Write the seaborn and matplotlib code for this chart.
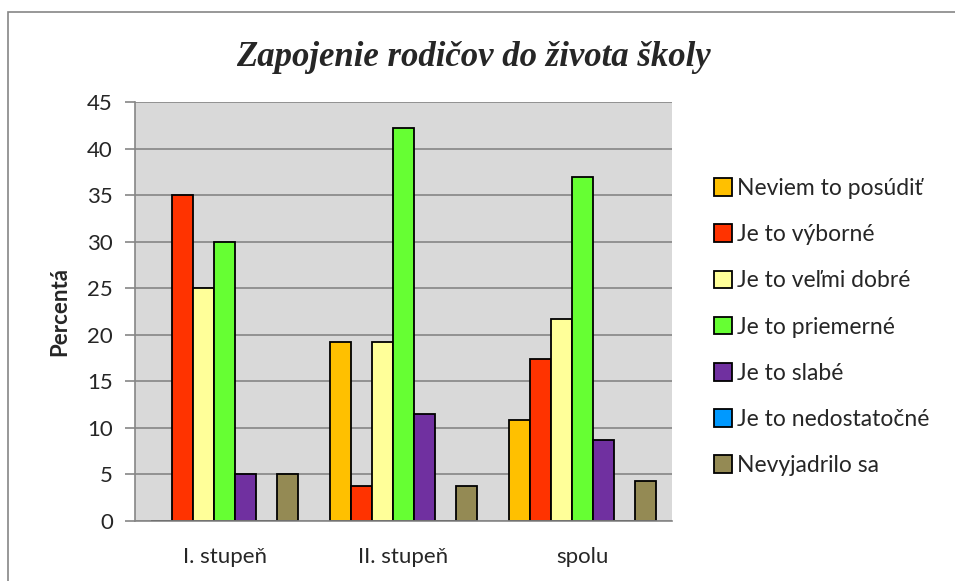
import pandas as pd
import seaborn as sns
import matplotlib.pyplot as plt
from matplotlib.patches import Rectangle

groups = ["I. stupeň", "II. stupeň", "spolu"]
answers = ["Neviem to posúdiť", "Je to výborné", "Je to veľmi dobré",
           "Je to priemerné", "Je to slabé", "Je to nedostatočné",
           "Nevyjadrilo sa"]
neviem = [0, 19.2, 10.9]
vyborne = [35, 3.8, 17.4]
velmi_dobre = [25, 19.2, 21.7]
priemerne = [30, 42.3, 37.0]
slabe = [5, 11.5, 8.7]
nedostatocne = [0, 0, 0]
nevyjadrilo = [5, 3.8, 4.3]

colors = ["#FFC000", "#FF3300", "#FFFF99", "#66FF33", "#7030A0",
          "#0099FF", "#948A54"]


def build_frame():
    series = [neviem, vyborne, velmi_dobre, priemerne, slabe,
              nedostatocne, nevyjadrilo]
    rows = []
    for answer, vals in zip(answers, series):
        for g, v in zip(groups, vals):
            rows.append({"group": g, "answer": answer, "value": v})
    return pd.DataFrame(rows)


def main():
    df = build_frame()
    sns.set_style("white")
    plt.rcParams["font.family"] = ["Lato", "DejaVu Sans"]

    fig = plt.figure(figsize=(9.55, 5.81), dpi=100)
    ax = fig.add_axes([0.1414, 0.1033, 0.5623, 0.7203])
    ax.set_facecolor("#D9D9D9")

    sns.barplot(data=df, x="group", y="value", hue="answer",
                hue_order=answers, order=groups, palette=colors,
                width=0.82, edgecolor="black", linewidth=1.3,
                saturation=1, ax=ax, legend=True)

    ax.set_ylim(0, 45)
    ax.set_xlim(-0.5, 2.5)
    ax.set_yticks(range(0, 46, 5))
    ax.yaxis.grid(True, color="#868686", linewidth=1.2)
    ax.set_axisbelow(True)
    for side in ["top", "right"]:
        ax.spines[side].set_visible(False)
    for side in ["left", "bottom"]:
        ax.spines[side].set_color("#868686")
        ax.spines[side].set_linewidth(1.2)
    ax.tick_params(axis="y", length=7, width=1.2, color="#868686",
                   labelsize=16, pad=9, direction="out", left=True)
    ax.tick_params(axis="x", length=0, labelsize=16, pad=19)
    ax.set_xlabel("")
    ax.set_ylabel("Percentá", fontsize=16, fontweight="bold", labelpad=12)

    handles, labels = ax.get_legend_handles_labels()
    leg = ax.legend(handles, labels, loc="center left",
                    bbox_to_anchor=(714 / 955, 1 - 327 / 581),
                    bbox_transform=fig.transFigure,
                    frameon=False, fontsize=16.5, handlelength=0.8,
                    handleheight=0.8, handletextpad=0.2,
                    labelspacing=1.1, borderaxespad=0, borderpad=0)
    for h in leg.legend_handles:
        h.set_edgecolor("black")
        h.set_linewidth(1.3)

    fig.text(473 / 955, 1 - 58 / 581, "Zapojenie rodičov do života školy",
             ha="center", va="center", fontsize=25, fontweight="bold",
             fontstyle="italic", family="Liberation Serif")

    fig.patches.append(Rectangle((8 / 955, -0.05), 1.0, 1 - 12 / 581 + 0.05,
                                 transform=fig.transFigure, fill=False,
                                 edgecolor="#868686", linewidth=1.2))

    fig.savefig("out.png", dpi=100)
    plt.close(fig)


if __name__ == '__main__':
    main()
